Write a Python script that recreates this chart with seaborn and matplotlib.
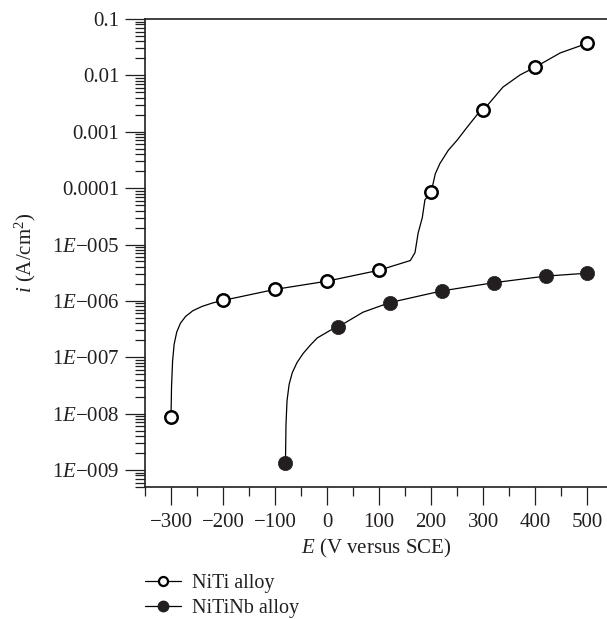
import numpy as np
import matplotlib
matplotlib.use("Agg")
import matplotlib.pyplot as plt
import matplotlib.ticker as mticker
from matplotlib.lines import Line2D
import seaborn as sns

# Polarisation curves, values

# markers
niti_e = [-300, -200, -100, 0, 100, 200, 300, 400, 500]
niti_i = [8.9e-9, 1.02e-6, 1.6e-6, 2.24e-6, 3.5e-6, 8.5e-5, 2.4e-3, 1.4e-2, 3.7e-2]

nitinb_e = [-80, 20, 120, 220, 320, 420, 500]
nitinb_i = [1.35e-9, 3.4e-7, 9.3e-7, 1.5e-6, 2.1e-6, 2.75e-6, 3.1e-6]

# traced solid curves
niti_curve_e = [-300, -299, -297, -294, -289, -282, -272, -258, -240, -220,
                -200, -100, 0, 100, 160, 169, 175, 183, 188, 200, 208, 217,
                233, 250, 269, 290, 300, 338, 371, 400, 448, 500]
niti_curve_i = [8.9e-9, 3.0e-8, 8.5e-8, 1.7e-7, 2.8e-7, 4.0e-7, 5.3e-7,
                6.7e-7, 8.0e-7, 9.2e-7, 1.02e-6, 1.6e-6, 2.24e-6, 3.5e-6,
                5.2e-6, 7.2e-6, 1.6e-5, 3.0e-5, 6.2e-5, 8.5e-5, 1.8e-4,
                2.75e-4, 4.7e-4, 7.1e-4, 1.2e-3, 2.1e-3, 2.4e-3, 6.2e-3,
                1.02e-2, 1.4e-2, 2.5e-2, 3.7e-2]

nitinb_curve_e = [-80, -79, -77, -73, -67, -58, -46, -32, -19, 6, 20, 69,
                  120, 220, 320, 420, 500]
nitinb_curve_i = [1.35e-9, 6.5e-9, 1.7e-8, 3.3e-8, 5.3e-8, 8.0e-8, 1.17e-7,
                  1.65e-7, 2.2e-7, 3.0e-7, 3.4e-7, 6.3e-7, 9.3e-7, 1.5e-6,
                  2.1e-6, 2.75e-6, 3.1e-6]

y_labels = {0.1: "0.1", 0.01: "0.01", 0.001: "0.001", 1e-4: "0.0001",
            1e-5: "1$E$\u2212005", 1e-6: "1$E$\u2212006", 1e-7: "1$E$\u2212007",
            1e-8: "1$E$\u2212008", 1e-9: "1$E$\u2212009"}

sns.set_theme(style="ticks")
plt.rcParams["font.family"] = ["Liberation Serif", "DejaVu Serif"]
plt.rcParams["mathtext.fontset"] = "custom"
plt.rcParams["mathtext.rm"] = "Liberation Serif"
plt.rcParams["mathtext.it"] = "Liberation Serif:italic"
plt.rcParams["axes.unicode_minus"] = True

fig = plt.figure(figsize=(6.07, 6.19), dpi=100)
ax = fig.add_axes([145 / 607, 132 / 619, 462 / 607, 468 / 619])
ax.set_yscale("log")

sns.lineplot(x=niti_curve_e, y=niti_curve_i, sort=False, color="black",
             linewidth=0.9, ax=ax)
sns.lineplot(x=nitinb_curve_e, y=nitinb_curve_i, sort=False, color="black",
             linewidth=0.9, ax=ax)
sns.scatterplot(x=niti_e, y=niti_i, marker="o", s=80, facecolor="white",
                edgecolor="black", linewidth=1.8, zorder=3, ax=ax)
sns.scatterplot(x=nitinb_e, y=nitinb_i, marker="o", s=105, color="#231f20",
                edgecolor="#231f20", linewidth=0.5, zorder=3, ax=ax)

ax.set_xlim(-350, 538)
ax.set_ylim(5e-10, 0.1)

ax.xaxis.set_major_locator(mticker.MultipleLocator(100))
ax.xaxis.set_minor_locator(mticker.MultipleLocator(50))
ax.yaxis.set_major_locator(mticker.LogLocator(base=10, numticks=20))
ax.yaxis.set_minor_locator(mticker.LogLocator(base=10, subs=np.arange(2, 10),
                                              numticks=20))
ax.yaxis.set_major_formatter(mticker.FuncFormatter(
    lambda v, pos: min(y_labels.items(), key=lambda kv: abs(np.log10(kv[0]) - np.log10(v)))[1]))
ax.yaxis.set_minor_formatter(mticker.NullFormatter())

ax.tick_params(axis="both", which="both", direction="out", color="#231f20",
               width=0.9, labelsize=15, labelcolor="#231f20")
ax.tick_params(axis="y", which="major", length=14.4, pad=4)
ax.tick_params(axis="y", which="minor", length=7.2)
ax.tick_params(axis="x", which="major", length=13, pad=6)
ax.tick_params(axis="x", which="minor", length=6.5)

for side in ["left", "bottom", "top"]:
    ax.spines[side].set_linewidth(1.2)
    ax.spines[side].set_color("#231f20")
ax.spines["right"].set_visible(False)

ax.set_xlabel("$E$ (V versus SCE)", fontsize=15, color="#231f20", labelpad=3)
ax.set_ylabel("$i$ (A/cm$^2$)", fontsize=15, color="#231f20", labelpad=10)

handles = [
    Line2D([], [], color="black", lw=0.9, marker="o", markersize=6.5,
           markerfacecolor="white", markeredgecolor="black", markeredgewidth=1.6),
    Line2D([], [], color="black", lw=0.9, marker="o", markersize=7.5,
           markerfacecolor="#231f20", markeredgecolor="#231f20"),
]
fig.legend(handles, ["NiTi alloy", "NiTiNb alloy"], loc="upper left",
           bbox_to_anchor=(145 / 607, 1 - 574 / 619), frameon=False,
           fontsize=14.5, handlelength=1.8, handletextpad=0.55, labelspacing=0.3,
           borderpad=0, borderaxespad=0, labelcolor="#231f20")

fig.savefig("out.png", dpi=100)
